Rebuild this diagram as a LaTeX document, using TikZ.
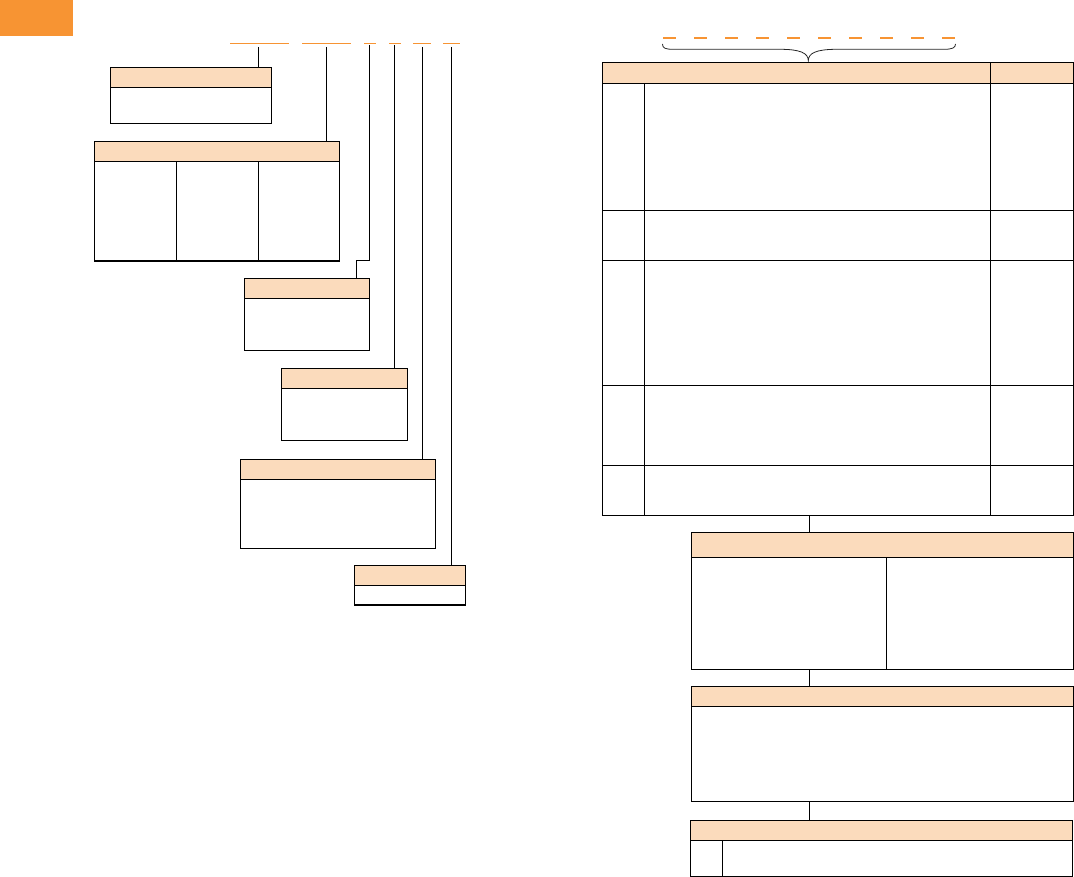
\documentclass[tikz,border=0pt]{standalone}
\usetikzlibrary{fit}
\definecolor{hdr}{HTML}{FBDBBC}
\definecolor{org}{HTML}{F79433}
\newcommand\mybox[6]{%
  \node[frame, fit={(#2,#3)(#4,#5)}] (#1) {};
  \node[head, fit={(#2,#3)(#4,#6)}] (#1h) {};}
\begin{document}
\begin{tikzpicture}[x=1pt,y=-1pt,line width=1.1pt,
  frame/.style={draw=black, inner sep=0pt},
  head/.style={draw=black, fill=hdr, inner sep=0pt},
  seg/.style={draw=org, line width=1.2pt},
  conn/.style={draw=black, line width=1.1pt},
  bracest/.style={draw=black!85, line width=0.8pt}]
\useasboundingbox (0,0) rectangle (1074,877);
% corner tab
\node[fill=org, inner sep=0pt, fit={(0,0)(72.5,36)}] (tab0) {};
% top orange segments
\foreach \n/\a/\b in {1/230/288.7, 2/302/350.7, 3/364/376, 4/389/401, 5/413/431, 6/443/460}
  \draw[seg] (\a,43.3) -- (\b,43.3);
% left boxes
\mybox{b1}{110.3}{67.3}{271.7}{123.3}{87.3}
\mybox{b2}{94.3}{141.3}{339.3}{261}{161.7}
\draw (176.3,161.7) -- (176.3,261);
\draw (258.3,161.7) -- (258.3,261);
\mybox{b3}{244.3}{278.3}{369.3}{350.3}{298.3}
\mybox{b4}{281.3}{368.3}{407.3}{440.3}{388.3}
\mybox{b5}{240.3}{459.3}{435.3}{548.3}{479.3}
\mybox{b6}{354.3}{565.3}{465.3}{605}{585.3}
% connectors from the segments
\coordinate (s1) at (258.3,47);
\coordinate (s2) at (326.3,47);
\coordinate (s3) at (369.6,45);
\coordinate (s4) at (394.3,45);
\coordinate (s5) at (422.3,47);
\coordinate (s6) at (451.6,47);
\coordinate (k3) at (369.6,260.7);
\coordinate (k3b) at (356.5,260.7);
\draw[conn] (s1) -- (s1 |- b1.north);
\draw[conn] (s2) -- (s2 |- b2.north);
\draw[conn] (s3) -- (k3) -- (k3b) -- (k3b |- b3.north);
\draw[conn] (s4) -- (s4 |- b4.north);
\draw[conn] (s5) -- (s5 |- b5.north);
\draw[conn] (s6) -- (s6 |- b6.north);
% dashed orange line and brace
\coordinate (dl) at (663,37.7);
\coordinate (dr) at (955,37.7);
\draw[org, line width=1.8pt, dash pattern=on 13pt off 18pt] (dl) -- (dr);
\coordinate (bl) at (662.5,44);
\coordinate (br) at (955.5,44);
\coordinate (btip) at (808.3,60.7);
\draw[bracest] (bl) .. controls (662.5,48) and (665,49.3) .. (673,49.3) -- (780,49.3)
  .. controls (800,49.3) and (808.3,53) .. (btip)
  .. controls (808.3,53) and (816.6,49.3) .. (836.6,49.3) -- (944,49.3)
  .. controls (952,49.3) and (955.5,48) .. (br);
% main table
\node[frame, fit={(602.3,62.3)(1073.3,515.3)}] (tab) {};
\node[head, fit={(602.3,62.3)(990.3,83.3)}] (tabh1) {};
\node[head, fit={(990.3,62.3)(1073.3,83.3)}] (tabh2) {};
\draw (644.3,83.3) -- (644.3,515.3);
\draw (990.3,83.3) -- (990.3,515.3);
\foreach \y in {210.3,260.7,385.3,465.3}
  \draw (602.3,\y) -- (1073.3,\y);
% lower right boxes
\mybox{b7}{691.3}{532.3}{1073.3}{669.3}{557.3}
\draw (886.3,557.3) -- (886.3,669.3);
\mybox{b8}{691.3}{686.3}{1073.3}{801.3}{706.3}
\mybox{b9}{690.7}{820.3}{1072.3}{876.3}{840.3}
\draw (722.3,840.3) -- (722.3,876.3);
\coordinate (c0) at (809.3,515.3);
\draw[conn] (c0) -- (c0 |- b7.north);
\draw[conn] (c0 |- b7.south) -- (c0 |- b8.north);
\draw[conn] (c0 |- b8.south) -- (c0 |- b9.north);
\end{tikzpicture}
\end{document}
